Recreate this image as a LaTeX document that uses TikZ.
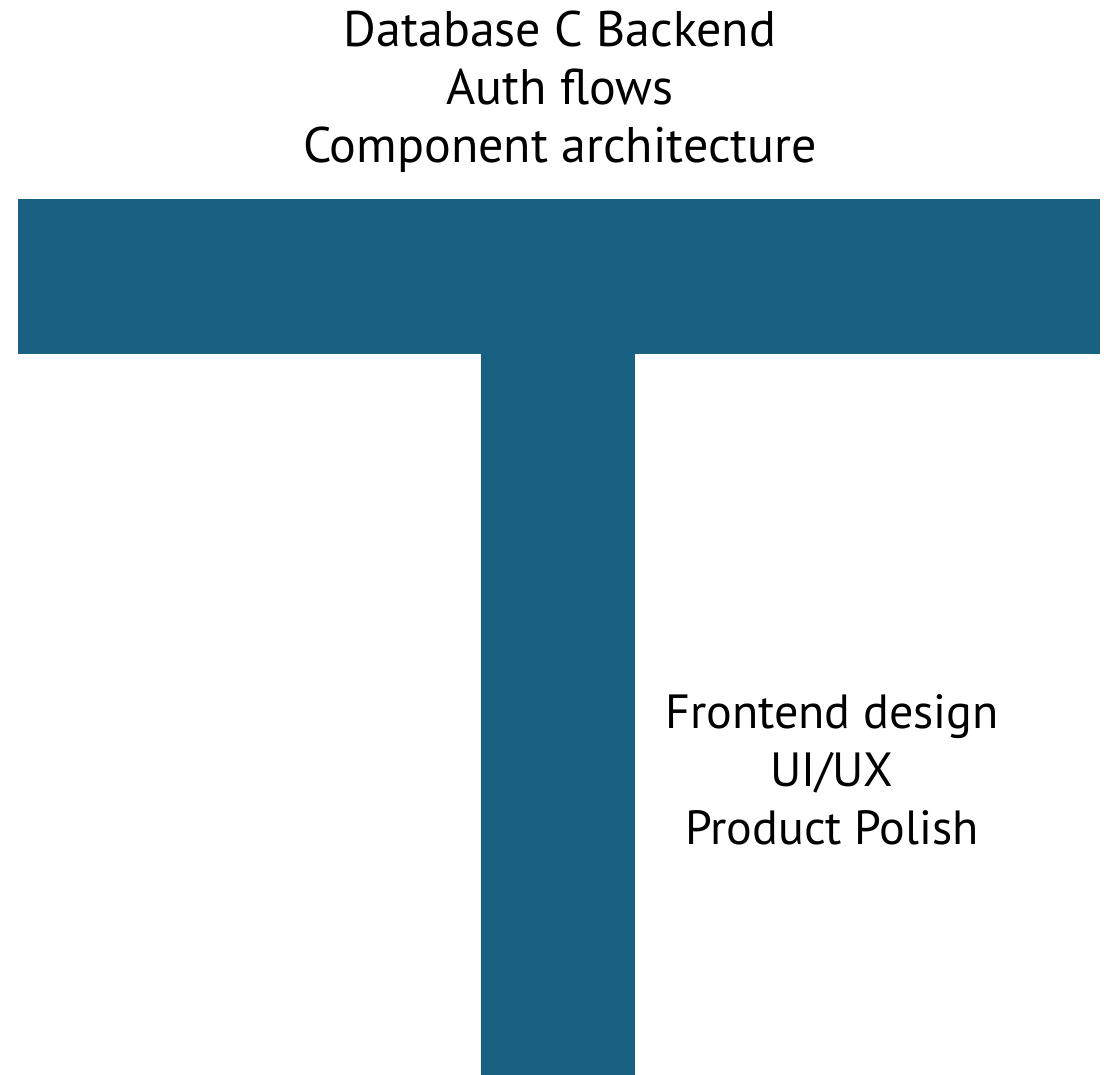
\documentclass[tikz,border=0pt]{standalone}
\usepackage{fontspec}
\setmainfont{PT Sans}
\usepackage{xcolor}
\usetikzlibrary{positioning}
\definecolor{teebar}{HTML}{196183}

\begin{document}
\begin{tikzpicture}[x=1pt,y=1pt,
    every node/.style={align=center,font=\fontsize{50}{58}\selectfont},
    bar/.style={fill=teebar,draw=none}]
    \useasboundingbox (0,0) rectangle (1105,1075);
    % the T
    \fill[bar] (18,721) rectangle (1100,876);
    \fill[bar] (481,0) rectangle (635,721);
    % labels
    \node (Broad) at (560,983) {Database C Backend\\Auth flows\\Component architecture};
    \node[font=\fontsize{48}{58}\selectfont] (Deep) at (832,305) {Frontend design\\UI/UX\\Product Polish};
  \end{tikzpicture}
\end{document}
